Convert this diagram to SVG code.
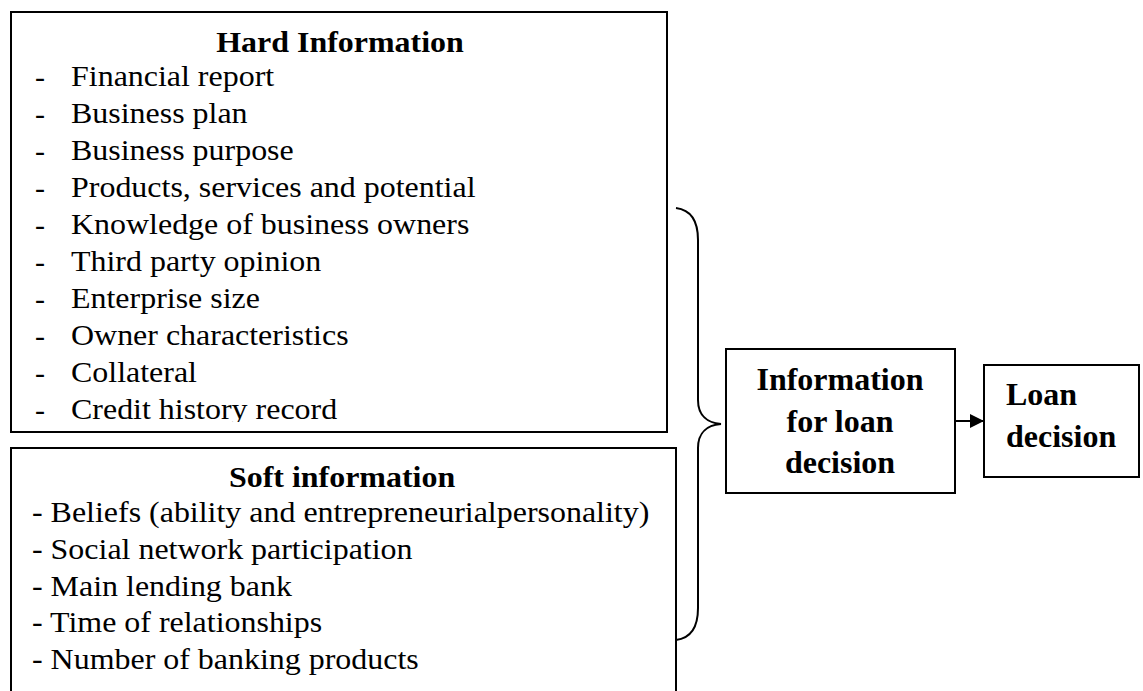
<svg xmlns="http://www.w3.org/2000/svg" width="1143" height="691" viewBox="0 0 1143 691">
  <style>
    .box { fill: #fff; stroke: #000; stroke-width: 2; }
    .txt { font-family: "Liberation Serif", "Times New Roman", serif; font-size: 30px; fill: #000; }
    .head { font-family: "Liberation Serif", "Times New Roman", serif; font-size: 30px; font-weight: bold; fill: #000; text-anchor: middle; }
    .big { font-family: "Liberation Serif", "Times New Roman", serif; font-size: 32px; font-weight: bold; fill: #000; }
    .line { fill: none; stroke: #000; stroke-width: 2; }
  </style>
  <defs>
    <clipPath id="hardClip"><rect x="11" y="13" width="655" height="409"/></clipPath>
    <marker id="arrow" markerWidth="14" markerHeight="14" refX="13" refY="7" orient="auto" markerUnits="userSpaceOnUse">
      <path d="M0,0 L14,7 L0,14 Z" fill="#000"/>
    </marker>
  </defs>
  <rect width="1143" height="691" fill="#fff"/>

  <!-- hard information box; list text is set slightly wide -->
  <g id="hard">
    <rect class="box" x="11" y="12" width="656" height="420"/>
    <g clip-path="url(#hardClip)">
      <text class="head" x="340" y="52" transform="matrix(1.065,0,0,1,-22.1,0)">Hard Information</text>
      <g class="txt">
        <text x="35" y="86.5">-</text>
        <text x="35" y="123.5">-</text>
        <text x="35" y="160.5">-</text>
        <text x="35" y="197.5">-</text>
        <text x="35" y="234.5">-</text>
        <text x="35" y="271.5">-</text>
        <text x="35" y="308.5">-</text>
        <text x="35" y="345.5">-</text>
        <text x="35" y="382.5">-</text>
        <text x="35" y="419.5">-</text>
      </g>
      <g class="txt" transform="matrix(1.065,0,0,1,-4.6,0)">
        <text x="71" y="86.5">Financial report</text>
        <text x="71" y="123.5">Business plan</text>
        <text x="71" y="160.5">Business purpose</text>
        <text x="71" y="197.5">Products, services and potential</text>
        <text x="71" y="234.5">Knowledge of business owners</text>
        <text x="71" y="271.5">Third party opinion</text>
        <text x="71" y="308.5">Enterprise size</text>
        <text x="71" y="345.5">Owner characteristics</text>
        <text x="71" y="382.5">Collateral</text>
        <text x="71" y="419.5">Credit history record</text>
      </g>
    </g>
  </g>

  <!-- soft information box, runs past the lower edge -->
  <g id="soft">
    <rect class="box" x="11" y="448" width="665" height="260"/>
    <text class="head" x="342" y="487" transform="matrix(1.065,0,0,1,-22.2,0)">Soft information</text>
    <g class="txt" transform="matrix(1.065,0,0,1,-2.1,0)">
      <text x="32" y="522">- Beliefs (ability and entrepreneurialpersonality)</text>
      <text x="32" y="559">- Social network participation</text>
      <text x="32" y="596">- Main lending bank</text>
      <text x="32" y="632.5">- Time of relationships</text>
      <text x="32" y="669.5">- Number of banking products</text>
    </g>
  </g>

  <!-- information for loan decision -->
  <g id="info">
    <rect class="box" x="726" y="349" width="229" height="144"/>
    <g class="big" text-anchor="middle">
      <text x="840" y="390">Information</text>
      <text x="840" y="432">for loan</text>
      <text x="840" y="473">decision</text>
    </g>
  </g>

  <!-- loan decision -->
  <g id="loan">
    <rect class="box" x="984" y="365" width="155" height="112"/>
    <g class="big">
      <text x="1006" y="405">Loan</text>
      <text x="1006" y="447">decision</text>
    </g>
  </g>

  <!-- connectors: brace and arrow -->
  <g id="connectors">
    <path class="line" stroke-width="1.6" d="M676,208 C692,210 698,222 698,240 L698,400 C698,416 708,423 721,424 C708,425 698,432 698,448 L698,608 C698,626 692,638 676,640"/>
    <line class="line" x1="955" y1="421" x2="983" y2="421" stroke-width="2.5" marker-end="url(#arrow)"/>
  </g>
</svg>
